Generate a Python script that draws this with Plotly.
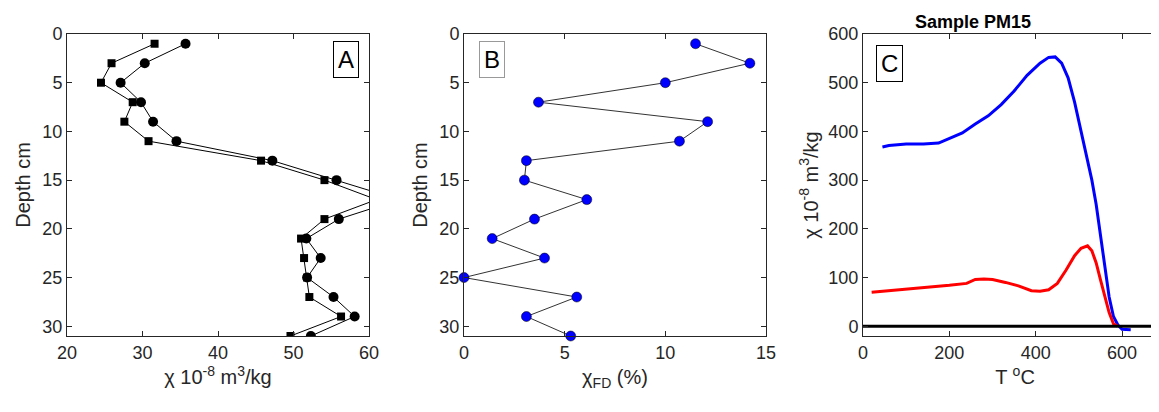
import plotly.graph_objects as go

depth = [1, 3, 5, 7, 9, 11, 13, 15, 17, 19, 21, 23, 25, 27, 29, 31]
chi_circle = [35.7, 30.3, 27.1, 29.8, 31.4, 34.5, 47.2, 55.7, 64.0, 56.0, 51.7, 53.6, 51.8, 55.3, 58.1, 52.3]
chi_square = [31.6, 25.9, 24.5, 28.7, 27.6, 30.8, 45.7, 54.1, 61.0, 54.1, 51.0, 51.4, 51.8, 52.1, 56.3, 49.6]
chi_fd = [11.5, 14.2, 10.0, 3.7, 12.1, 10.7, 3.1, 3.0, 6.1, 3.5, 1.4, 4.0, 0.0, 5.6, 3.1, 5.3]

T_heat = [45, 60, 100, 140, 175, 200, 230, 260, 290, 320, 350, 380, 410, 430, 445, 460, 475, 490, 505, 520, 530, 540, 550, 560, 570, 580, 590, 600, 620]
chi_heat = [368, 371, 374, 374, 376, 386, 397, 415, 432, 455, 483, 515, 540, 552, 553, 540, 510, 460, 400, 340, 300, 250, 190, 120, 60, 20, 3, -6, -7]
T_cool = [20, 60, 100, 150, 200, 240, 260, 280, 300, 330, 360, 390, 410, 430, 450, 470, 490, 505, 520, 530, 540, 550, 560, 570, 580, 590]
chi_cool = [70, 73, 76, 79, 84, 88, 96, 97, 96, 90, 83, 73, 72, 75, 88, 115, 145, 160, 165, 155, 130, 95, 60, 28, 5, 0]

fig = go.Figure()
fig.add_trace(go.Scatter(x=chi_circle, y=depth, mode="lines+markers", line=dict(color="black", width=1),
                         marker=dict(symbol="circle", size=10, color="black"), xaxis="x", yaxis="y", cliponaxis=True))
fig.add_trace(go.Scatter(x=chi_square, y=depth, mode="lines+markers", line=dict(color="black", width=1),
                         marker=dict(symbol="square", size=8, color="black"), xaxis="x", yaxis="y", cliponaxis=True))
fig.add_trace(go.Scatter(x=chi_fd, y=depth, mode="lines+markers", line=dict(color="#333", width=1),
                         marker=dict(symbol="circle", size=10, color="#0000ff", line=dict(color="black", width=0.5)),
                         xaxis="x2", yaxis="y2", cliponaxis=False))
fig.add_trace(go.Scatter(x=T_heat, y=chi_heat, mode="lines", line=dict(color="#0000ff", width=3), xaxis="x3", yaxis="y3"))
fig.add_trace(go.Scatter(x=T_cool, y=chi_cool, mode="lines", line=dict(color="#ff0000", width=3), xaxis="x3", yaxis="y3"))
fig.add_trace(go.Scatter(x=[0, 720], y=[0, 0], mode="lines", line=dict(color="black", width=3), xaxis="x3", yaxis="y3"))

W = 1159.0
ax = dict(showgrid=False, zeroline=False, showline=True, linecolor="#262626", linewidth=1, mirror="ticks",
          ticks="inside", ticklen=5, tickcolor="#262626", tickfont=dict(size=18, color="#262626"), automargin=False)
tf = dict(size=20, color="#262626")
fig.update_layout(
    width=1159, height=412, showlegend=False, plot_bgcolor="white", paper_bgcolor="white",
    font=dict(family="Liberation Sans, Arial", color="#262626"),
    margin=dict(l=0, r=0, t=26, b=84),
    xaxis=dict(ax, domain=[59/W, 361/W], range=[20, 60], tickvals=[20, 30, 40, 50, 60],
               title=dict(text="χ 10<sup>-8</sup> m<sup>3</sup>/kg", font=tf, standoff=8)),
    yaxis=dict(ax, range=[31, 0], tickvals=[0, 5, 10, 15, 20, 25, 30], anchor="x",
               title=dict(text="Depth cm", font=tf, standoff=6)),
    xaxis2=dict(ax, domain=[456/W, 758/W], range=[0, 15], tickvals=[0, 5, 10, 15], anchor="y2",
                title=dict(text="χ<sub>FD</sub> (%)", font=tf, standoff=8)),
    yaxis2=dict(ax, range=[31, 0], tickvals=[0, 5, 10, 15, 20, 25, 30], anchor="x2",
                title=dict(text="Depth cm", font=tf, standoff=6)),
    xaxis3=dict(ax, domain=[855/W, 1.0], range=[0, 704], tickvals=[0, 200, 400, 600], anchor="y3",
                title=dict(text="T <sup>o</sup>C", font=tf, standoff=8)),
    yaxis3=dict(ax, range=[-20, 600], tickvals=[0, 100, 200, 300, 400, 500, 600], anchor="x3",
                title=dict(text="χ 10<sup>-8</sup> m<sup>3</sup>/kg", font=tf, standoff=4)),
    annotations=[
        dict(text="A", xref="x", yref="y", x=57, y=2.6, showarrow=False, font=dict(size=24, color="black"),
             bordercolor="black", borderwidth=1, borderpad=4, bgcolor="white"),
        dict(text="B", xref="x2", yref="y2", x=1.4, y=2.6, showarrow=False, font=dict(size=24, color="black"),
             bordercolor="#999", borderwidth=1, borderpad=4, bgcolor="white"),
        dict(text="C", xref="x3", yref="y3", x=62, y=540, showarrow=False, font=dict(size=24, color="black"),
             bordercolor="black", borderwidth=1, borderpad=4, bgcolor="white"),
        dict(text="<b>Sample PM15</b>", xref="x3", yref="paper", x=255, y=1.0, yanchor="bottom",
             showarrow=False, font=dict(size=18, color="black")),
    ],
)
fig.write_html("out.html")
